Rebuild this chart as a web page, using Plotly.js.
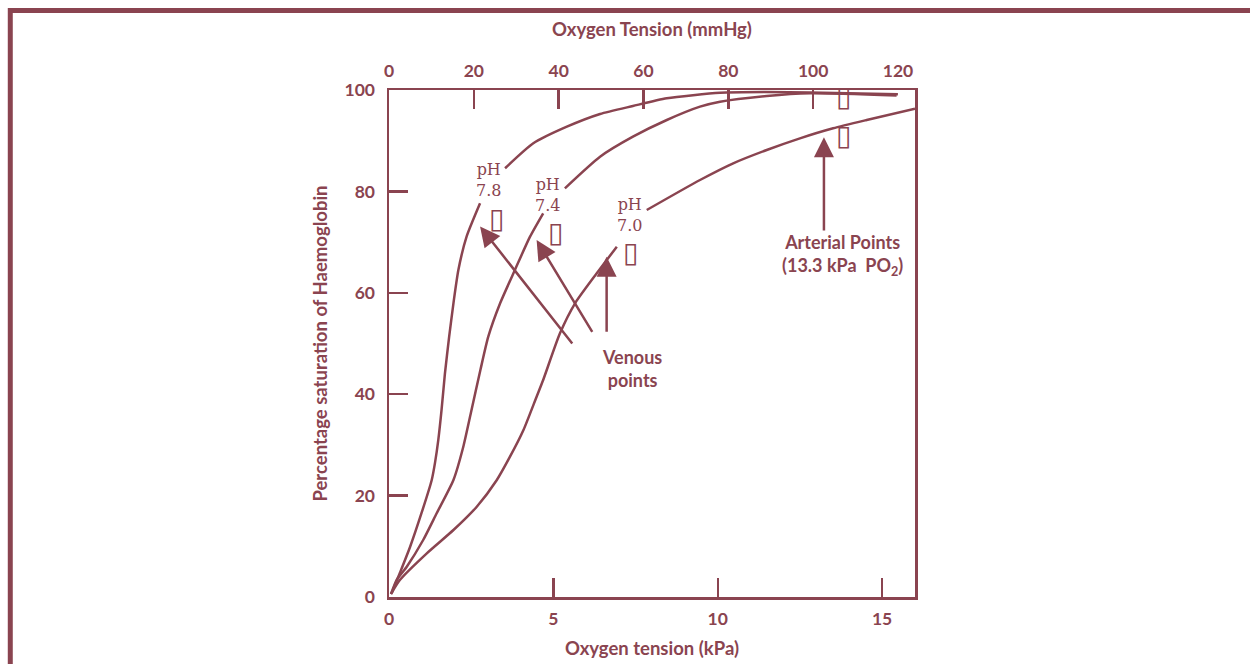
<!DOCTYPE html>
<html>
<head>
<meta charset="utf-8">
<script src="https://cdn.plot.ly/plotly-3.0.1.min.js"></script>
<style>html,body{margin:0;padding:0;background:#fff;}#chart{width:1250px;height:664px;}</style>
</head>
<body>
<div id="chart"></div>
<script>
// Oxygen tension (kPa) and % saturation for each pH curve (null = gap behind label)
const kpa78 = [0.08, 0.33, 0.64, 0.99, 1.30, 1.40, 1.50, 1.60, 1.70, 1.83, 1.96, 2.11, 2.36, 2.77, null, 3.53, 4.39, 5.41, 6.42, 7.42, 8.45, 10.07, 11.47, 12.81, 15.48];
const sat78 = [0.73, 4.73, 9.86, 16.57, 23.08, 26.5, 31.0, 37.0, 44.0, 51.34, 57.93, 64.50, 71.07, 77.65, null, 84.56, 89.49, 92.76, 95.27, 96.84, 98.36, 99.47, 99.61, 99.51, 99.15];
const kpa74 = [0.06, 0.23, 0.54, 1.04, 1.45, 1.96, 2.26, 2.49, 2.78, 3.02, 3.38, 3.83, 4.29, 4.69, null, 5.35, 6.42, 7.42, 8.45, 9.46, 10.07, 11.49, 12.81, 15.44];
const sat74 = [0.59, 3.35, 5.98, 11.24, 16.51, 23.08, 29.64, 36.29, 44.77, 51.34, 57.93, 64.50, 71.07, 75.68, null, 80.61, 86.84, 90.79, 94.08, 96.71, 97.69, 98.82, 99.35, 98.92];
const kpa70 = [0.06, 0.33, 1.15, 1.96, 2.67, 3.28, 3.68, 4.09, 4.49, 4.69, 5.20, 5.66, 6.32, 6.93, null, 7.84, 9.46, 10.47, 11.49, 12.50, 13.51, 14.53, 16.0];
const sat70 = [0.59, 3.35, 8.62, 13.21, 17.81, 23.08, 27.67, 32.94, 39.51, 42.80, 52.01, 57.93, 63.85, 69.09, null, 76.33, 82.25, 85.54, 88.17, 90.47, 92.45, 94.08, 96.3];

const kpaTicks = [0, 5, 10, 15];
const satTicks = [0, 20, 40, 60, 80, 100];
const mmHgTicks = [0, 20, 40, 60, 80, 100];
const mmHgEndTick = [120];

const C = '#8a4450';
const tickFont = {family: 'Lato, sans-serif', size: 17.5, color: C, weight: 'bold'};
const titleFont = {family: 'Lato, sans-serif', size: 18.5, color: C, weight: 'bold'};
const noteFont = {family: 'Lato, sans-serif', size: 18, color: C, weight: 'bold'};
const labFont = {family: '"DejaVu Serif", serif', size: 16, color: C};
const boxFont = {family: '"DejaVu Sans", sans-serif', size: 28, color: C};

function curve(x, y) {
  return {x: x, y: y, type: 'scatter', mode: 'lines', connectgaps: false,
          line: {color: C, width: 2.5, shape: 'spline', smoothing: 0.6},
          hoverinfo: 'skip', showlegend: false, xaxis: 'x', yaxis: 'y'};
}
const data = [curve(kpa78, sat78), curve(kpa74, sat74), curve(kpa70, sat70)];

function arrow(x, y, ax, ay) {
  return {x: x, y: y, ax: ax, ay: ay, xref: 'x', yref: 'y', axref: 'x', ayref: 'y',
          text: '', showarrow: true, arrowhead: 2, arrowsize: 1.6, arrowwidth: 2.5,
          arrowcolor: C, standoff: 0, startstandoff: 0};
}
function label(x, y, text, font) {
  return {x: x, y: y, xref: 'x', yref: 'y', text: text, showarrow: false, font: font,
          xanchor: 'center', yanchor: 'middle', align: 'center', borderpad: 0};
}

const annotations = [
  label(3.04, 82.2, 'pH<br>7.8', labFont),
  label(4.81, 79.3, 'pH<br>7.4', labFont),
  label(7.33, 75.4, 'pH<br>7.0', labFont),
  label(3.28, 74.6, '▯', boxFont),
  label(5.05, 71.8, '▯', boxFont),
  label(7.36, 68.0, '▯', boxFont),
  label(13.81, 98.8, '▯', boxFont),
  label(13.81, 91.1, '▯', boxFont),
  label(7.39, 45.0, 'Venous<br>points', noteFont),
  label(13.78, 67.5, 'Arterial Points<br>(13.3 kPa\u00a0\u00a0PO<sub>2</sub>)', noteFont),
  arrow(2.77, 73.1, 5.61, 49.7),
  arrow(4.49, 70.4, 6.21, 52.0),
  arrow(6.62, 67.1, 6.62, 52.0),
  arrow(13.23, 90.7, 13.23, 72.0)
];

const layout = {
  width: 1250, height: 664,
  margin: {l: 389, r: 335, t: 90, b: 67, pad: 0},
  paper_bgcolor: '#ffffff', plot_bgcolor: '#ffffff',
  showlegend: false,
  xaxis: {
    range: [0, 16], tickvals: kpaTicks, ticks: 'inside', ticklen: 19, tickwidth: 2.5,
    tickcolor: C, showline: true, linecolor: C, linewidth: 2.5, showgrid: false,
    zeroline: false, tickfont: tickFont, ticklabelstandoff: 4,
    title: {text: 'Oxygen tension (kPa)', font: titleFont, standoff: 15}
  },
  xaxis2: {
    overlaying: 'x', side: 'top', range: [0, 124], tickvals: mmHgTicks, ticks: 'inside',
    ticklen: 19, tickwidth: 2.5, tickcolor: C, showline: true, linecolor: C, linewidth: 2.5,
    showgrid: false, zeroline: false, tickfont: tickFont, ticklabelstandoff: 4,
    title: {text: 'Oxygen Tension (mmHg)', font: titleFont, standoff: 18}
  },
  xaxis3: {
    overlaying: 'x', side: 'top', range: [0, 124], tickvals: mmHgEndTick, ticks: '',
    showline: false, showgrid: false, zeroline: false, tickfont: tickFont, ticklabelstandoff: 9
  },
  yaxis: {
    range: [0, 100], tickvals: satTicks, ticks: 'inside', ticklen: 19, tickwidth: 2.5,
    tickcolor: C, showline: true, mirror: true, linecolor: C, linewidth: 2.5, showgrid: false,
    zeroline: false, tickfont: tickFont, ticklabelstandoff: 8,
    title: {text: 'Percentage saturation of Haemoglobin', font: titleFont, standoff: 12}
  },
  annotations: annotations,
  shapes: [{
    type: 'rect', xref: 'paper', yref: 'paper',
    x0: -0.72, x1: 1.70, y0: -0.2, y1: 1.157,
    line: {color: C, width: 5}, fillcolor: 'rgba(0,0,0,0)', layer: 'below'
  }]
};

// invisible anchor traces so the top axes are drawn
data.push({x: [0], y: [0], xaxis: 'x2', yaxis: 'y', mode: 'markers', marker: {opacity: 0}, hoverinfo: 'skip', showlegend: false});
data.push({x: [0], y: [0], xaxis: 'x3', yaxis: 'y', mode: 'markers', marker: {opacity: 0}, hoverinfo: 'skip', showlegend: false});

Plotly.newPlot('chart', data, layout, {staticPlot: true});
</script>
</body>
</html>
